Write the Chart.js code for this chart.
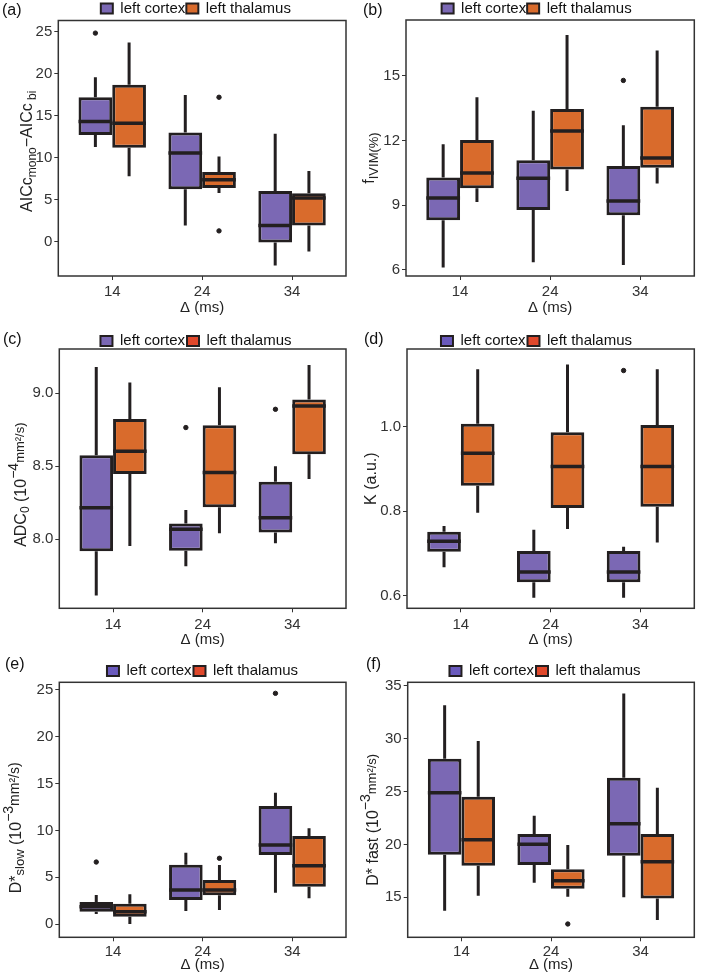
<!DOCTYPE html>
<html lang="en">
<head>
<meta charset="UTF-8">
<title>IVIM box plots</title>
<style>
  body { margin: 0; background: #fff; }
  #grid { position: relative; width: 702px; height: 978px; }
  .panel { position: absolute; }
</style>
</head>
<body>
<div id="grid">
  <canvas class="panel" id="chart_a" width="351" height="325" style="left:0;top:0"></canvas>
  <canvas class="panel" id="chart_b" width="351" height="325" style="left:351px;top:0"></canvas>
  <canvas class="panel" id="chart_c" width="351" height="325" style="left:0;top:325px"></canvas>
  <canvas class="panel" id="chart_d" width="351" height="325" style="left:351px;top:325px"></canvas>
  <canvas class="panel" id="chart_e" width="351" height="328" style="left:0;top:650px"></canvas>
  <canvas class="panel" id="chart_f" width="351" height="328" style="left:351px;top:650px"></canvas>
</div>
<script src="https://cdn.jsdelivr.net/npm/chart.js@4.4.1/dist/chart.umd.min.js"></script>
<script>
const deltas = ['14', '24', '34'];

// each entry: [lower whisker, Q1, median, Q3, upper whisker] for delta = 14, 24, 34 ms
const aicCortex = [[11.26, 12.68, 14.3, 17.18, 19.55], [1.94, 6.24, 10.55, 13.0, 17.46], [-2.8, -0.08, 1.94, 6.04, 12.84]];
const aicThalamus = [[7.78, 11.18, 14.1, 18.68, 23.7], [5.8, 6.4, 7.39, 8.29, 10.15], [-1.15, 1.94, 5.21, 5.77, 8.41]];
const aicCortexOut = [[24.8], [], []];
const aicThalamusOut = [[], [17.18, 1.3], []];

const fivimCortex = [[6.11, 8.3, 9.33, 10.28, 11.82], [6.36, 8.78, 10.25, 11.08, 13.38], [6.23, 8.53, 9.2, 10.82, 12.7]];
const fivimThalamus = [[9.15, 9.78, 10.49, 12.02, 14.0], [9.66, 10.65, 12.44, 13.46, 16.88], [10.01, 10.74, 11.19, 13.56, 16.17]];
const fivimCortexOut = [[], [], [14.78]];
const fivimThalamusOut = [[], [], []];

const adcCortex = [[7.614, 7.918, 8.215, 8.575, 9.18], [7.815, 7.922, 8.068, 8.107, 8.2], [7.973, 8.046, 8.148, 8.393, 8.5]];
const adcThalamus = [[7.954, 8.447, 8.603, 8.824, 9.073], [8.041, 8.219, 8.457, 8.781, 9.041], [8.413, 8.582, 8.913, 8.957, 9.194]];
const adcCortexOut = [[], [8.765], [8.89]];
const adcThalamusOut = [[], [], []];

const kCortex = [[0.667, 0.704, 0.7286, 0.7515, 0.765], [0.595, 0.6316, 0.656, 0.7057, 0.756], [0.595, 0.6316, 0.656, 0.7057, 0.716]];
const kThalamus = [[0.796, 0.86, 0.937, 1.007, 1.136], [0.758, 0.8075, 0.906, 0.9866, 1.1475], [0.726, 0.8107, 0.906, 1.004, 1.136]];
const kCortexOut = [[], [], [1.133]];
const kThalamusOut = [[], [], []];

const slowCortex = [[1.07, 1.32, 1.85, 2.35, 3.1], [1.39, 2.56, 3.63, 6.34, 7.62], [3.35, 7.37, 8.44, 12.6, 14.03]];
const slowThalamus = [[0.0, 0.78, 1.3, 2.17, 3.17], [1.5, 3.06, 3.63, 4.7, 6.3], [2.74, 3.99, 6.23, 9.4, 10.22]];
const slowCortexOut = [[6.62], [], [24.64]];
const slowThalamusOut = [[], [7.02], []];

const fastCortex = [[13.74, 19.04, 24.9, 28.12, 33.17], [16.39, 18.06, 20.02, 21.0, 22.73], [15.0, 18.94, 21.97, 26.32, 34.3]];
const fastThalamus = [[15.16, 18.0, 20.46, 24.53, 29.8], [15.06, 15.82, 16.58, 17.65, 19.95], [12.85, 14.9, 18.38, 21.0, 25.38]];
const fastCortexOut = [[], [], []];
const fastThalamusOut = [[], [12.48], []];

const seriesNames = ['left cortex', 'left thalamus'];
const purple = '#7b68b4';
const orange = '#d96b2c';
const ink = '#231f20';
const family = "'Liberation Sans', Arial, Helvetica, sans-serif";

Chart.defaults.font.family = family;

function boxDatasets(cortex, thalamus, cortexOut, thalamusOut) {
    const series = [cortex, thalamus];
    const side = [-0.1875, 0.1875];
    const datasets = [];
    series.forEach((stats, s) => {
        datasets.push({
            type: 'bar',
            label: seriesNames[s],
            data: stats.map((b, i) => ({ x: i + 1, y: [b[1], b[3]] })),
            backgroundColor: [purple, orange][s],
            borderColor: ink,
            borderWidth: 3,
            borderSkipped: false,
            order: 2
        });
    });
    series.forEach((stats, s) => {
        const whisk = [];
        const med = [];
        stats.forEach((b, i) => {
            const cx = i + 1 + side[s];
            whisk.push({ x: cx, y: b[0] }, { x: cx, y: b[1] }, { x: cx, y: null },
                { x: cx, y: b[3] }, { x: cx, y: b[4] }, { x: cx, y: null });
            med.push({ x: cx - 0.1875, y: b[2] }, { x: cx + 0.1875, y: b[2] }, { x: cx + 0.19, y: null });
        });
        datasets.push({ type: 'line', data: whisk, borderColor: ink, borderWidth: 3, pointRadius: 0, spanGaps: false, order: 3 });
        datasets.push({ type: 'line', data: med, borderColor: ink, borderWidth: 3.5, pointRadius: 0, spanGaps: false, order: 1 });
    });
    [cortexOut, thalamusOut].forEach((outs, s) => {
        const pts = [];
        outs.forEach((vals, i) => vals.forEach(v => pts.push({ x: i + 1 + side[s], y: v })));
        datasets.push({ type: 'line', data: pts, showLine: false, backgroundColor: ink, borderColor: ink, pointRadius: 2.2, order: 0 });
    });
    return datasets;
}

const panelDecor = {
    id: 'panelDecor',
    afterLayout(chart, args, opts) {
        // centre the legend over the panel the way ggplot does
        const lg = chart.legend;
        lg.left = opts.legL;
        lg.width = lg.right - lg.left;
    },
    afterDatasetsDraw(chart) {
        const a = chart.chartArea;
        const ctx = chart.ctx;
        ctx.save();
        ctx.strokeStyle = '#333';
        ctx.lineWidth = 1.5;
        ctx.strokeRect(a.left, a.top, a.right - a.left, a.bottom - a.top);
        ctx.restore();
    },
    afterDraw(chart, args, opts) {
        const ctx = chart.ctx;
        const a = chart.chartArea;
        ctx.save();
        ctx.fillStyle = '#111';
        ctx.font = '16px ' + family;
        ctx.textBaseline = 'middle';
        ctx.fillText(opts.tag, opts.tagX, opts.tagY);

        // rotated y title with sub/superscripts
        let total = 0;
        opts.title.forEach(p => {
            ctx.font = p.size + 'px ' + family;
            total += ctx.measureText(p.text).width;
        });
        ctx.translate(opts.titleX, (a.top + a.bottom) / 2 + opts.titleShift);
        ctx.rotate(-Math.PI / 2);
        ctx.textBaseline = 'alphabetic';
        ctx.fillStyle = '#222';
        let x = -total / 2;
        opts.title.forEach(p => {
            ctx.font = p.size + 'px ' + family;
            ctx.fillText(p.text, x, p.dy);
            x += ctx.measureText(p.text).width;
        });
        ctx.restore();
    }
};

function makePanel(id, p) {
    return new Chart(document.getElementById(id), {
        type: 'bar',
        data: { datasets: p.datasets },
        plugins: [panelDecor],
        options: {
            responsive: false,
            animation: false,
            events: [],
            layout: { padding: { left: p.padL, right: p.padR, top: p.padT, bottom: p.padB } },
            datasets: { bar: { categoryPercentage: 0.75, barPercentage: 1 } },
            plugins: {
                tooltip: { enabled: false },
                panelDecor: { legL: p.legL, tag: p.tag, tagX: p.tagX, tagY: p.tagY, title: p.title, titleX: p.titleX, titleShift: p.titleShift },
                legend: {
                    position: 'top',
                    maxHeight: p.legendH,
                    labels: {
                        boxWidth: 12,
                        boxHeight: 10,
                        padding: p.legendPad,
                        color: '#111',
                        font: { size: 15 },
                        generateLabels: (chart) => Chart.defaults.plugins.legend.labels.generateLabels(chart)
                            .filter(item => item.datasetIndex < 2)
                            .sort((u, v) => u.datasetIndex - v.datasetIndex)
                            .map(item => Object.assign(item, { fillStyle: p.keys[item.datasetIndex], strokeStyle: ink, lineWidth: 2 }))
                    }
                }
            },
            scales: {
                x: {
                    type: 'linear',
                    min: 0.4,
                    max: 3.6,
                    offset: false,
                    afterBuildTicks: (axis) => { axis.ticks = [1, 2, 3].map(v => ({ value: v })); },
                    afterFit: (axis) => { axis.height = p.xH; },
                    grid: { display: true, drawOnChartArea: false, drawTicks: true, tickLength: 4, color: '#333', lineWidth: 1, offset: false },
                    border: { display: false },
                    ticks: { color: '#333', font: { size: 15 }, padding: p.xPad, maxRotation: 0, callback: (v) => deltas[v - 1] },
                    title: { display: true, text: 'Δ (ms)', color: '#222', font: { size: 15 }, padding: 0 }
                },
                y: {
                    type: 'linear',
                    min: p.yMin,
                    max: p.yMax,
                    beginAtZero: false,
                    afterBuildTicks: (axis) => { axis.ticks = p.yTicks.map(v => ({ value: v })); },
                    afterFit: (axis) => { axis.width = 34; },
                    grid: { display: true, drawOnChartArea: false, drawTicks: true, tickLength: 4, color: '#333', lineWidth: 1 },
                    border: { display: false },
                    ticks: { color: '#333', font: { size: 15 }, padding: 2, callback: (v) => v.toFixed(p.yDigits) }
                }
            }
        }
    });
}

const keysA = [purple, orange];
const keysB = ['#6a5abd', '#e0482b'];

makePanel('chart_a', {
    datasets: boxDatasets(aicCortex, aicThalamus, aicCortexOut, aicThalamusOut),
    yMin: -4.06, yMax: 26.3, yTicks: [0, 5, 10, 15, 20, 25], yDigits: 0,
    padL: 24.3, padR: 3.3, padT: 0, padB: 8, xH: 41, xPad: 3,
    legL: 44, legendH: 20.5, legendPad: 1, keys: keysA,
    tag: '(a)', tagX: 2, tagY: 11,
    title: [{ text: 'AICc', size: 16, dy: 0 }, { text: 'mono', size: 12, dy: 4 }, { text: '\u2212AICc', size: 16, dy: 0 }, { text: ' bi', size: 12, dy: 4 }],
    titleX: 32, titleShift: 3
});

makePanel('chart_b', {
    datasets: boxDatasets(fivimCortex, fivimThalamus, fivimCortexOut, fivimThalamusOut),
    yMin: 5.72, yMax: 17.58, yTicks: [6, 9, 12, 15], yDigits: 0,
    padL: 21, padR: 7.7, padT: 0, padB: 8, xH: 41, xPad: 3,
    legL: 28, legendH: 20, legendPad: 1, keys: keysA,
    tag: '(b)', tagX: 12, tagY: 11,
    title: [{ text: 'f', size: 16, dy: 0 }, { text: 'IVIM(%)', size: 13, dy: 3.5 }],
    titleX: 23, titleShift: 10
});

makePanel('chart_c', {
    datasets: boxDatasets(adcCortex, adcThalamus, adcCortexOut, adcThalamusOut),
    yMin: 7.527, yMax: 9.303, yTicks: [8.0, 8.5, 9.0], yDigits: 1,
    padL: 25.3, padR: 3.3, padT: 6.5, padB: 1, xH: 40.7, xPad: 4,
    legL: 44.3, legendH: 17.5, legendPad: 2, keys: [purple, '#e0482b'],
    tag: '(c)', tagX: 3, tagY: 14.5,
    title: [{ text: 'ADC', size: 16, dy: 0 }, { text: '0', size: 12, dy: 3 }, { text: ' (10', size: 16, dy: 0 }, { text: '\u22124', size: 14, dy: -8 }, { text: 'mm\u00b2/s)', size: 13, dy: -2 }],
    titleX: 25.5, titleShift: 6
});

makePanel('chart_d', {
    datasets: boxDatasets(kCortex, kThalamus, kCortexOut, kThalamusOut),
    yMin: 0.570, yMax: 1.184, yTicks: [0.6, 0.8, 1.0], yDigits: 1,
    padL: 22, padR: 7.7, padT: 6.5, padB: 1, xH: 40.7, xPad: 3.7,
    legL: 27.7, legendH: 17.5, legendPad: 2, keys: keysB,
    tag: '(d)', tagX: 13, tagY: 15,
    title: [{ text: 'K (a.u.)', size: 16, dy: 0 }],
    titleX: 25, titleShift: 0
});

makePanel('chart_e', {
    datasets: boxDatasets(slowCortex, slowThalamus, slowCortexOut, slowThalamusOut),
    yMin: -1.42, yMax: 25.82, yTicks: [0, 5, 10, 15, 20, 25], yDigits: 0,
    padL: 25.3, padR: 3.3, padT: 11.5, padB: 4, xH: 36.7, xPad: 1.4,
    legL: 57.3, legendH: 20.8, legendPad: 2, keys: keysB,
    tag: '(e)', tagX: 5, tagY: 15,
    title: [{ text: 'D*', size: 16, dy: 0 }, { text: 'slow', size: 13, dy: 3.3 }, { text: ' (10', size: 16, dy: 0 }, { text: '\u22123', size: 14, dy: -8 }, { text: 'mm\u00b2/s)', size: 14, dy: -2 }],
    titleX: 21, titleShift: 18
});

makePanel('chart_f', {
    datasets: boxDatasets(fastCortex, fastThalamus, fastCortexOut, fastThalamusOut),
    yMin: 11.22, yMax: 35.35, yTicks: [15, 20, 25, 30, 35], yDigits: 0,
    padL: 22.7, padR: 7.7, padT: 11.5, padB: 4, xH: 36.7, xPad: 1.4,
    legL: 44.7, legendH: 20.8, legendPad: 2, keys: keysB,
    tag: '(f)', tagX: 15, tagY: 15,
    title: [{ text: 'D* fast (10', size: 16, dy: 0 }, { text: '\u22123', size: 14, dy: -8 }, { text: 'mm\u00b2/s)', size: 13, dy: -2 }],
    titleX: 27, titleShift: 10
});
</script>
</body>
</html>
